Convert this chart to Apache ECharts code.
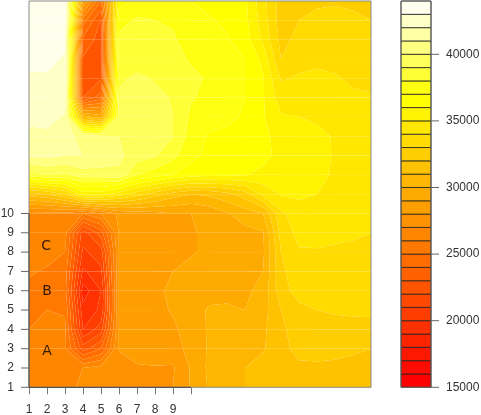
<!DOCTYPE html>
<html>
<head>
<meta charset="utf-8">
<style>html, body { margin: 0; background: #fff; }</style>
<script src="https://cdn.jsdelivr.net/npm/echarts@6/dist/echarts.min.js"></script>
</head>
<body>
<div id="main" style="width: 481px; height: 415px;"></div>
<script>
// grid values, one row per y = 1..21, x = 1..20
const z = [
  [26500, 26500, 26700, 27200, 27500, 27600, 27700, 27800, 28000, 29100, 30100, 30500, 31000, 31300, 31500, 31500, 31500, 31500, 31500, 31500],
  [26500, 26500, 26500, 27000, 27400, 27700, 27900, 27950, 27900, 29100, 30200, 30600, 31000, 31400, 31600, 31800, 31800, 31700, 31600, 31500],
  [26300, 26400, 26200, 22500, 24000, 28050, 28400, 28400, 28500, 29400, 30100, 30400, 30600, 30900, 31700, 32300, 32400, 32400, 32200, 32000],
  [26000, 26400, 26200, 20000, 21500, 28050, 28300, 28500, 28800, 29500, 30100, 30400, 30600, 30800, 31800, 32500, 32700, 32700, 32600, 32500],
  [25700, 26000, 25900, 19300, 20200, 28050, 28500, 28700, 29100, 29600, 30100, 30100, 30000, 30600, 32000, 32800, 33000, 33100, 33200, 33300],
  [25800, 25500, 25400, 18500, 20000, 28050, 28500, 28800, 29200, 29400, 29700, 29800, 29800, 30300, 32700, 33300, 33500, 33600, 33600, 33500],
  [26100, 25900, 25500, 19800, 20800, 28050, 28400, 28700, 29000, 29300, 29600, 29700, 29700, 30000, 32800, 33600, 33800, 33800, 33700, 33700],
  [26300, 26300, 26000, 20800, 21500, 28050, 28400, 28600, 28700, 28900, 29200, 29400, 29500, 29800, 33000, 33900, 33900, 33800, 33700, 33600],
  [26500, 26500, 26400, 21500, 23500, 28050, 28300, 28500, 28700, 28900, 29200, 29400, 29700, 29900, 33400, 34300, 34400, 34300, 34200, 34000],
  [26900, 26800, 26800, 26000, 27000, 28200, 28500, 28700, 29000, 29000, 29300, 29900, 30500, 31000, 33800, 34500, 34700, 34700, 34600, 34500],
  [31500, 32000, 33000, 35500, 35500, 34500, 33500, 32500, 31500, 31000, 31200, 31700, 32500, 34300, 35100, 35200, 35000, 34800, 34700, 34600],
  [38500, 39000, 38800, 39500, 39500, 39800, 38000, 37500, 37000, 36500, 36300, 36200, 36100, 35700, 35500, 35400, 35200, 34900, 34700, 34500],
  [41200, 41300, 41000, 41000, 40800, 40200, 39500, 39100, 38300, 37300, 36700, 36500, 36500, 36300, 35700, 35600, 35400, 34900, 34700, 34500],
  [41700, 41800, 41500, 40500, 40200, 40000, 39600, 39300, 39000, 37600, 36900, 36800, 36700, 36200, 35700, 35500, 35300, 34900, 34700, 34500],
  [42300, 42300, 41900, 30500, 29500, 39500, 39500, 39400, 39000, 37800, 37400, 37200, 36900, 36100, 35100, 35000, 34800, 34600, 34400, 34300],
  [42600, 42600, 42400, 23000, 24500, 39200, 39500, 39300, 38900, 38100, 37700, 37400, 37000, 36100, 34500, 34400, 34400, 34300, 34200, 34100],
  [42900, 42900, 42700, 22900, 22900, 38800, 39200, 38900, 38600, 38200, 37900, 37500, 37000, 36100, 33900, 34100, 34200, 34100, 33800, 33700],
  [43200, 43200, 42900, 22900, 22500, 38500, 38500, 38500, 38300, 37900, 37600, 37400, 37000, 35700, 33000, 33700, 33800, 33700, 33500, 33400],
  [43400, 43400, 43200, 23800, 22500, 38200, 38300, 38300, 38100, 37600, 37400, 37100, 36500, 34800, 32700, 33300, 33500, 33500, 33300, 33200],
  [43500, 43500, 43300, 25500, 22900, 37700, 38100, 38000, 37900, 37300, 37100, 36800, 36300, 34500, 32500, 33000, 33300, 33300, 33200, 33000],
  [43500, 43500, 43300, 29000, 25000, 36500, 37500, 37300, 37200, 37000, 36700, 36600, 36200, 34300, 32600, 32500, 32800, 32900, 32800, 32500]
]
const xTicks = [1, 2, 3, 4, 5, 6, 7, 8, 9, 10]
const xLabels = [1, 2, 3, 4, 5, 6, 7, 8, 9]
const yTicks = [1, 2, 3, 4, 5, 6, 7, 8, 9, 10]
const barTicks = [15000, 20000, 25000, 30000, 35000, 40000]
const notes = [[2, 2.88, 'A'], [2, 5.98, 'B'], [1.95, 8.3, 'C']]
const levelMin = 15000
const levelMax = 44000
const levelStep = 1000

// same ramp as R's heat.colors(29), red at the low end
function heatColors(n) {
  const j = Math.floor(n / 4)
  const i = n - j
  const out = []
  for (let k = 0; k < i; k++) {
    out.push('rgb(255,' + Math.round(255 * k / (i - 1)) + ',0)')
  }
  for (let k = 0; k < j; k++) {
    const s = (1 - 1 / (2 * j)) - k * (1 - 1 / j) / (j - 1)
    out.push('rgb(255,255,' + Math.round(255 * (1 - s)) + ')')
  }
  return out
}

const levels = []
for (let v = levelMin; v < levelMax; v += levelStep) levels.push(v)
const colors = heatColors(levels.length)

// keep the part of a polygon on one side of a level, corners are [x, y, value]
function clip(poly, level, keepAbove) {
  const out = []
  for (let i = 0; i < poly.length; i++) {
    const a = poly[i]
    const b = poly[(i + 1) % poly.length]
    const aIn = keepAbove ? a[2] >= level : a[2] <= level
    const bIn = keepAbove ? b[2] >= level : b[2] <= level
    if (aIn) out.push(a)
    if (aIn !== bIn) {
      const t = (level - a[2]) / (b[2] - a[2])
      out.push([a[0] + t * (b[0] - a[0]), a[1] + t * (b[1] - a[1]), level])
    }
  }
  return out
}

function renderCell(params, api) {
  const c = api.value(0)
  const r = api.value(1)
  const corners = [[c, r], [c + 1, r], [c + 1, r + 1], [c, r + 1]].map(p => {
    const pt = api.coord([p[0] + 1, p[1] + 1])
    return [pt[0], pt[1], z[p[1]][p[0]]]
  })
  const children = []
  levels.forEach((lo, k) => {
    let poly = clip(corners, lo, true)
    if (poly.length > 2) poly = clip(poly, lo + levelStep, false)
    if (poly.length > 2) {
      children.push({
        type: 'polygon',
        shape: { points: poly.map(p => [p[0], p[1]]) },
        style: { fill: colors[k] }
      })
    }
  })
  return { type: 'group', children: children }
}

function renderBand(params, api) {
  const lo = api.value(1)
  const a = api.coord([0, lo])
  const b = api.coord([1, lo + levelStep])
  return {
    type: 'rect',
    shape: { x: a[0], y: b[1], width: b[0] - a[0], height: a[1] - b[1] },
    style: { fill: colors[params.dataIndex], stroke: '#222', lineWidth: 0.8 }
  }
}

const cells = []
for (let r = 0; r < z.length - 1; r++) {
  for (let c = 0; c < z[0].length - 1; c++) cells.push([c, r])
}

const textStyle = { color: '#333', fontSize: 12, fontFamily: 'Liberation Sans', formatter: v => String(v) }

const chart = echarts.init(document.getElementById('main'))
chart.setOption({
  animation: false,
  grid: [
    { left: 29, top: 1, width: 342, height: 386.3, outerBoundsMode: 'none', show: false },
    { left: 401, top: 1, width: 30, height: 386.3, outerBoundsMode: 'none', show: false }
  ],
  xAxis: [
    {
      type: 'value', gridIndex: 0, min: 1, max: 20,
      splitLine: { show: false },
      axisLine: { show: false },
      axisTick: { show: true, inside: false, length: 7, customValues: xTicks, lineStyle: { color: '#777' } },
      axisLabel: { show: true, margin: 16, customValues: xLabels, ...textStyle }
    },
    {
      type: 'value', gridIndex: 1, min: 0, max: 1,
      splitLine: { show: false }, axisLine: { show: false }, axisTick: { show: false }, axisLabel: { show: false }
    }
  ],
  yAxis: [
    {
      type: 'value', gridIndex: 0, min: 1, max: 21, interval: 1,
      splitLine: { show: false },
      axisLine: { show: false },
      axisTick: { show: false },
      axisLabel: { show: true, margin: 15, customValues: yTicks, ...textStyle }
    },
    {
      type: 'value', gridIndex: 1, position: 'right', min: levelMin, max: levelMax,
      splitLine: { show: false },
      axisLine: { show: false },
      axisTick: { show: false },
      axisLabel: { show: true, margin: 15, customValues: barTicks, ...textStyle }
    }
  ],
  series: [
    {
      type: 'custom', xAxisIndex: 0, yAxisIndex: 0, z: 1,
      data: cells, renderItem: renderCell, silent: true
    },
    {
      // plot frame
      type: 'line', xAxisIndex: 0, yAxisIndex: 0, z: 4, symbol: 'none', clip: false,
      lineStyle: { color: '#8a8a8a', width: 1 },
      data: [[1, 1], [1, 21], [20, 21], [20, 1], [1, 1]]
    },
    {
      // the darker stretch of the axes, ticks 1 to 10
      type: 'line', xAxisIndex: 0, yAxisIndex: 0, z: 5, symbol: 'none', clip: false,
      lineStyle: { color: '#444', width: 1 },
      data: [[1, yTicks[yTicks.length - 1]], [1, 1], [xTicks[xTicks.length - 1], 1]]
    },
    {
      type: 'scatter', xAxisIndex: 0, yAxisIndex: 0, z: 6, symbolSize: 0,
      data: notes,
      label: {
        show: true, position: 'inside', color: '#000', fontSize: 14, fontFamily: 'DejaVu Sans',
        formatter: p => p.value[2]
      }
    },
    {
      // left ticks
      type: 'scatter', xAxisIndex: 0, yAxisIndex: 0, z: 7, clip: false,
      symbol: 'rect', symbolSize: [8, 1], symbolOffset: [-4, 0],
      itemStyle: { color: '#666', opacity: 1 },
      data: yTicks.map(v => [1, v])
    },
    {
      type: 'custom', xAxisIndex: 1, yAxisIndex: 1, z: 1,
      data: levels.map(v => [0, v]), renderItem: renderBand, silent: true
    },
    {
      // colour bar frame
      type: 'line', xAxisIndex: 1, yAxisIndex: 1, z: 4, symbol: 'none', clip: false,
      lineStyle: { color: '#666', width: 1 },
      data: [[0, levelMin], [0, levelMax], [1, levelMax], [1, levelMin], [0, levelMin]]
    },
    {
      type: 'scatter', xAxisIndex: 1, yAxisIndex: 1, z: 5, clip: false,
      symbol: 'rect', symbolSize: [8, 1], symbolOffset: [4, 0],
      itemStyle: { color: '#666', opacity: 1 },
      data: barTicks.map(v => [1, v])
    }
  ]
})
</script>
</body>
</html>
